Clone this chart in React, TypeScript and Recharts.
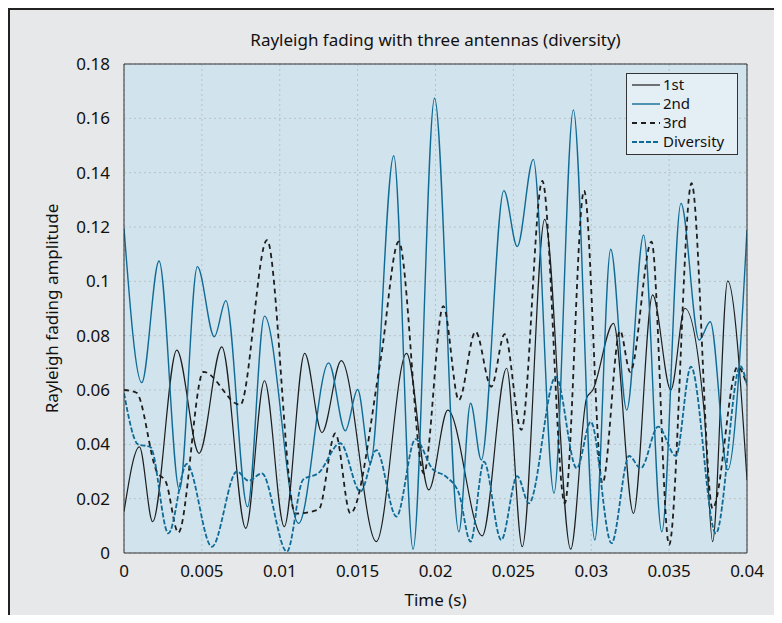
import { CartesianGrid, Line, LineChart, XAxis, YAxis } from "recharts"

const timeTicks = [0, 0.005, 0.01, 0.015, 0.02, 0.025, 0.03, 0.035, 0.04]
const ampTicks = [0, 0.02, 0.04, 0.06, 0.08, 0.1, 0.12, 0.14, 0.16, 0.18]

// antenna 1 (black solid)
const firstT = [0, 0.00099, 0.00184, 0.00339, 0.00482, 0.00628, 0.00782, 0.00902, 0.01029, 0.0116, 0.01271, 0.01395, 0.0162, 0.01814, 0.01957, 0.02079, 0.023, 0.02457, 0.02557, 0.02701, 0.02868, 0.0297, 0.0301, 0.03143, 0.03271, 0.03394, 0.03511, 0.03601, 0.03725, 0.03779, 0.03876, 0.04]
const firstV = [0.0152, 0.0391, 0.0115, 0.0747, 0.0367, 0.0759, 0.0091, 0.0634, 0.0097, 0.0735, 0.0443, 0.0708, 0.0042, 0.0735, 0.0232, 0.0526, 0.0063, 0.068, 0.0023, 0.1228, 0.0014, 0.057, 0.06, 0.0845, 0.0146, 0.095, 0.06, 0.0901, 0.052, 0.0042, 0.1002, 0.0269]

// antenna 2 (teal solid)
const secondT = [0, 0.00114, 0.00225, 0.00356, 0.00471, 0.0058, 0.00654, 0.00793, 0.00902, 0.01121, 0.01314, 0.01421, 0.015, 0.01582, 0.01732, 0.01856, 0.01994, 0.0215, 0.02225, 0.02294, 0.02439, 0.02525, 0.02628, 0.02761, 0.02885, 0.03023, 0.03125, 0.03228, 0.03336, 0.03453, 0.03576, 0.03693, 0.03764, 0.03876, 0.04]
const secondV = [0.1195, 0.0627, 0.1075, 0.0232, 0.1054, 0.0796, 0.0929, 0.017, 0.0872, 0.0109, 0.07, 0.045, 0.0602, 0.033, 0.1462, 0.0014, 0.1674, 0.0078, 0.0551, 0.0342, 0.1334, 0.1128, 0.1449, 0.022, 0.1631, 0.0048, 0.1118, 0.0526, 0.117, 0.0078, 0.1287, 0.0784, 0.0851, 0.0306, 0.1189]

// antenna 3 (black dashed)
const thirdT = [0, 0.0008, 0.0021, 0.0027, 0.00349, 0.0051, 0.00746, 0.00918, 0.011, 0.0125, 0.01357, 0.01453, 0.0165, 0.01764, 0.01925, 0.0205, 0.0215, 0.02257, 0.02358, 0.02444, 0.02551, 0.02686, 0.0283, 0.02954, 0.03072, 0.03185, 0.0325, 0.03387, 0.035, 0.03644, 0.03779, 0.0394, 0.04]
const thirdV = [0.06, 0.059, 0.03, 0.026, 0.0075, 0.0667, 0.0545, 0.1152, 0.0145, 0.016, 0.044, 0.0146, 0.072, 0.1146, 0.0293, 0.0909, 0.0563, 0.0815, 0.0612, 0.0806, 0.0453, 0.137, 0.0183, 0.1334, 0.0257, 0.0818, 0.0667, 0.1146, 0.003, 0.1361, 0.0164, 0.0686, 0.0618]

// selection diversity (teal dashed)
const diversityT = [0, 0.0009, 0.0017, 0.00285, 0.00403, 0.00564, 0.00725, 0.008, 0.00885, 0.01046, 0.0115, 0.0125, 0.01389, 0.01518, 0.0162, 0.01749, 0.01871, 0.0198, 0.0207, 0.0215, 0.02225, 0.02311, 0.02422, 0.02525, 0.026, 0.02772, 0.02907, 0.02997, 0.0313, 0.03243, 0.03318, 0.0343, 0.03543, 0.0364, 0.038, 0.03957, 0.04]
const diversityV = [0.0588, 0.04, 0.039, 0.0072, 0.0328, 0.0023, 0.03, 0.0266, 0.0293, 0.0005, 0.027, 0.0295, 0.0404, 0.0226, 0.0379, 0.0134, 0.0419, 0.031, 0.028, 0.022, 0.0042, 0.0336, 0.0048, 0.0283, 0.0183, 0.0649, 0.0312, 0.0483, 0.0036, 0.0357, 0.0312, 0.0465, 0.0357, 0.0686, 0.0072, 0.0688, 0.0618]

const zip = (ts: number[], vs: number[]) => ts.map((t, i) => ({ t, v: vs[i] }))

const BLACK = "#1e1e1e"
const TEAL = "#0f6b95"
const FONT = "'Noto Sans', 'Open Sans', sans-serif"

const legendItems = [
  { name: "1st", color: BLACK, dash: undefined, width: 1.2 },
  { name: "2nd", color: TEAL, dash: undefined, width: 1.4 },
  { name: "3rd", color: BLACK, dash: "5 4", width: 1.8 },
  { name: "Diversity", color: TEAL, dash: "5 2", width: 1.8 },
]

export default function App() {
  const axisStroke = { stroke: "#333", strokeWidth: 1 }
  return (
    <div style={{ position: "relative", width: 774, height: 615, marginBottom: -8, background: "#e7e8ea", fontFamily: FONT, overflow: "hidden" }}>
      <div style={{ position: "absolute", left: 116, width: 623, top: 21, textAlign: "center", fontSize: 17, lineHeight: "22px", color: "#111" }}>
        Rayleigh fading with three antennas (diversity)
      </div>
      <LineChart width={774} height={615} margin={{ top: 56, right: 35, left: 0, bottom: 40 }} style={{ fontFamily: FONT }}>
        <CartesianGrid stroke="#b8c0c6" strokeDasharray="2 3" fill="#d1e4ee" />
        <XAxis
          dataKey="t"
          type="number"
          domain={[0, 0.04]}
          ticks={timeTicks}
          allowDataOverflow
          height={30}
          tickLine={false}
          tickSize={0}
          tickMargin={12}
          axisLine={axisStroke}
          tick={{ fill: "#111", fontSize: 17 }}
          label={{ value: "Time (s)", position: "bottom", offset: 11, fill: "#111", fontSize: 17 }}
        />
        <XAxis xAxisId="bottomTicks" orientation="bottom" mirror type="number" domain={[0, 0.04]} ticks={timeTicks} allowDataOverflow tick={false} tickSize={6} axisLine={false} tickLine={axisStroke} />
        <XAxis xAxisId="top" orientation="top" mirror type="number" domain={[0, 0.04]} ticks={timeTicks} allowDataOverflow tick={false} tickSize={6} axisLine={axisStroke} tickLine={axisStroke} />
        <YAxis
          type="number"
          domain={[0, 0.18]}
          ticks={ampTicks}
          allowDataOverflow
          width={116}
          tickLine={false}
          tickSize={0}
          tickMargin={14}
          axisLine={axisStroke}
          tick={{ fill: "#111", fontSize: 17 }}
          label={{ value: "Rayleigh fading amplitude", angle: -90, position: "center", dx: -14, fill: "#111", fontSize: 17 }}
        />
        <YAxis yAxisId="leftTicks" orientation="left" mirror type="number" domain={[0, 0.18]} ticks={ampTicks} allowDataOverflow tick={false} tickSize={6} axisLine={false} tickLine={axisStroke} />
        <YAxis yAxisId="right" orientation="right" mirror type="number" domain={[0, 0.18]} ticks={ampTicks} allowDataOverflow tick={false} tickSize={6} axisLine={axisStroke} tickLine={axisStroke} />
        <Line data={zip(firstT, firstV)} dataKey="v" name="1st" type="monotone" stroke={BLACK} strokeWidth={1.2} dot={false} isAnimationActive={false} />
        <Line data={zip(secondT, secondV)} dataKey="v" name="2nd" type="monotone" stroke={TEAL} strokeWidth={1.4} dot={false} isAnimationActive={false} />
        <Line data={zip(thirdT, thirdV)} dataKey="v" name="3rd" type="monotone" stroke={BLACK} strokeWidth={1.8} strokeDasharray="5 4" dot={false} isAnimationActive={false} />
        <Line data={zip(diversityT, diversityV)} dataKey="v" name="Diversity" type="monotone" stroke={TEAL} strokeWidth={1.8} strokeDasharray="5 2" dot={false} isAnimationActive={false} />
      </LineChart>
      <svg width={112} height={82} style={{ position: "absolute", left: 618, top: 65 }}>
        <rect x={0.5} y={0.5} width={111} height={81} fill="#e4eef5" stroke="#333" />
        {legendItems.map((item, i) => (
          <g key={item.name}>
            <line x1={6} x2={34} y1={12 + i * 19} y2={12 + i * 19} stroke={item.color} strokeWidth={item.width} strokeDasharray={item.dash} />
            <text x={37} y={12 + i * 19} dy="0.35em" fontSize={15} fill="#111" fontFamily={FONT}>{item.name}</text>
          </g>
        ))}
      </svg>
      <div style={{ position: "absolute", inset: 0, borderTop: "2px solid #222", borderLeft: "2px solid #222", pointerEvents: "none" }} />
    </div>
  )
}
